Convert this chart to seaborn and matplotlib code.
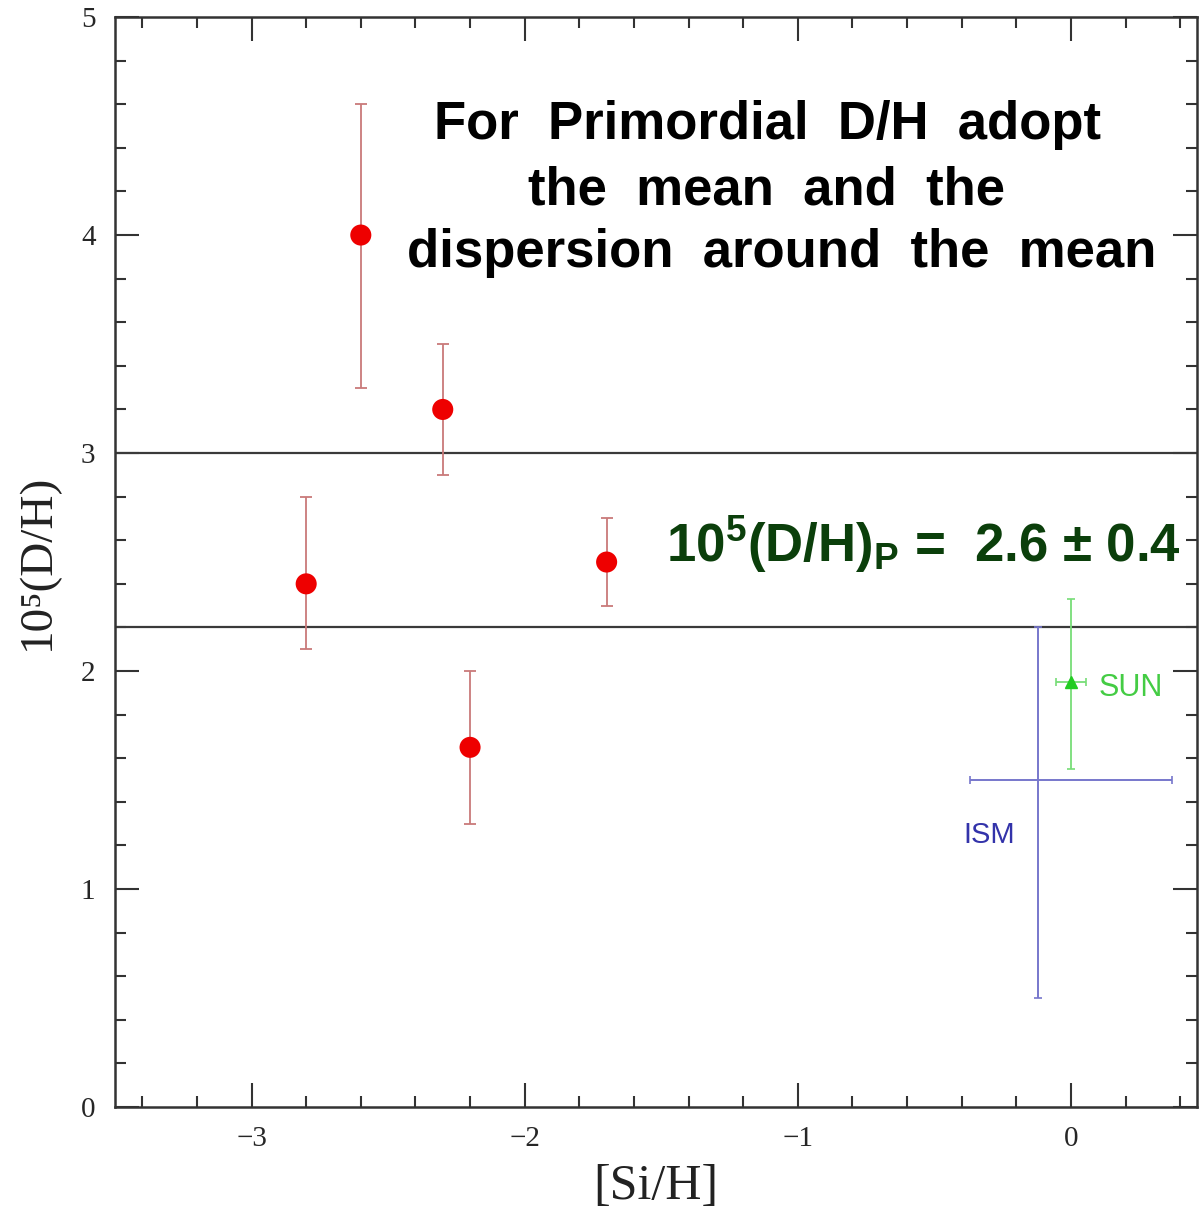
import matplotlib
matplotlib.use("Agg")
import matplotlib.pyplot as plt
from matplotlib.ticker import MultipleLocator
import seaborn as sns
import pandas as pd

# Deuterium abundances toward QSO absorbers
si_h = [-2.8, -2.6, -2.3, -2.2, -1.7]
dh = [2.4, 4.0, 3.2, 1.65, 2.5]
dh_err_lo = [0.3, 0.7, 0.3, 0.35, 0.2]
dh_err_hi = [0.4, 0.6, 0.3, 0.35, 0.2]

# Solar value
sun_x = [0.0]
sun_y = [1.95]
sun_xerr = [0.055]
sun_yerr_lo = [0.4]
sun_yerr_hi = [0.38]

# Local interstellar medium range
ism_x = [-0.12]
ism_y = [1.5]
ism_xerr_lo = [0.25]
ism_xerr_hi = [0.49]
ism_yerr_lo = [1.0]
ism_yerr_hi = [0.7]

# Band of the adopted primordial value
band_levels = [2.2, 3.0]

note_lines = ["For  Primordial  D/H  adopt",
              "the  mean  and  the",
              "dispersion  around  the  mean"]

sns.set_style("ticks")
plt.rcParams["mathtext.fontset"] = "custom"
plt.rcParams["mathtext.bf"] = "Liberation Sans:bold"
plt.rcParams["mathtext.rm"] = "Liberation Sans:bold"

fig = plt.figure(figsize=(11.99, 12.10), dpi=100)
ax = fig.add_axes([0.0959, 0.0851, 0.9021, 0.9008])

serif = ["Liberation Serif", "DejaVu Serif"]
sans = ["Liberation Sans", "DejaVu Sans"]

for yv in band_levels:
    ax.axhline(yv, color="#3a3a3a", lw=1.6, zorder=1)

ax.errorbar(si_h, dh, yerr=[dh_err_lo, dh_err_hi], fmt="none",
            ecolor="#c97a7a", elinewidth=1.3, capsize=4, capthick=1.3, zorder=2)
df = pd.DataFrame({"si_h": si_h, "dh": dh})
sns.scatterplot(data=df, x="si_h", y="dh", ax=ax, color="#ee0000",
                s=230, edgecolor="none", zorder=3, legend=False)

ax.errorbar(sun_x, sun_y, xerr=sun_xerr, yerr=[sun_yerr_lo, sun_yerr_hi],
            fmt="^", color="#22cc22", ms=9, ecolor="#77dd77",
            elinewidth=1.3, capsize=3, capthick=1.2, zorder=3)
ax.errorbar(ism_x, ism_y, xerr=[ism_xerr_lo, ism_xerr_hi],
            yerr=[ism_yerr_lo, ism_yerr_hi], fmt="none",
            ecolor="#7777cc", elinewidth=1.4, capsize=3, capthick=1.2, zorder=2)

ax.text(0.1, 1.92, "SUN", color="#44cc44", fontsize=22,
        family=sans, va="center", ha="left")
ax.text(-0.3, 1.25, "ISM", color="#3333aa", fontsize=21,
        family=sans, va="center", ha="center")

note_y = [4.505, 4.206, 3.917]
note_x = [-1.11, -1.115, -1.06]
for line, xv, yv in zip(note_lines, note_x, note_y):
    ax.text(xv, yv, line, fontsize=38, fontweight="bold",
            family=sans, ha="center", va="center", color="black")

ax.text(-1.482, 2.578, r"$\mathbf{10^{5}(D/H)_{P}}$ =  2.6 ± 0.4",
        fontsize=38, fontweight="bold", color="#0b3f0b",
        family=sans, ha="left", va="center")

ax.set_xlim(-3.5, 0.46)
ax.set_ylim(0, 5)
ax.xaxis.set_major_locator(MultipleLocator(1))
ax.xaxis.set_minor_locator(MultipleLocator(0.2))
ax.yaxis.set_major_locator(MultipleLocator(1))
ax.yaxis.set_minor_locator(MultipleLocator(0.2))
ax.tick_params(which="both", direction="in", top=True, right=True,
               color="#333333", width=1.5)
ax.tick_params(which="major", length=17, labelsize=21, pad=14)
ax.tick_params(which="minor", length=8)
for lab in ax.get_xticklabels() + ax.get_yticklabels():
    lab.set_family(serif)
for sp in ax.spines.values():
    sp.set_linewidth(1.8)
    sp.set_color("#333333")

ax.set_xlabel("[Si/H]", fontsize=36, family=serif, labelpad=8, color="#222222")
ax.set_ylabel("10⁵(D/H)", fontsize=34, family=serif, labelpad=16, color="#222222")

fig.savefig("out.png", dpi=100)
